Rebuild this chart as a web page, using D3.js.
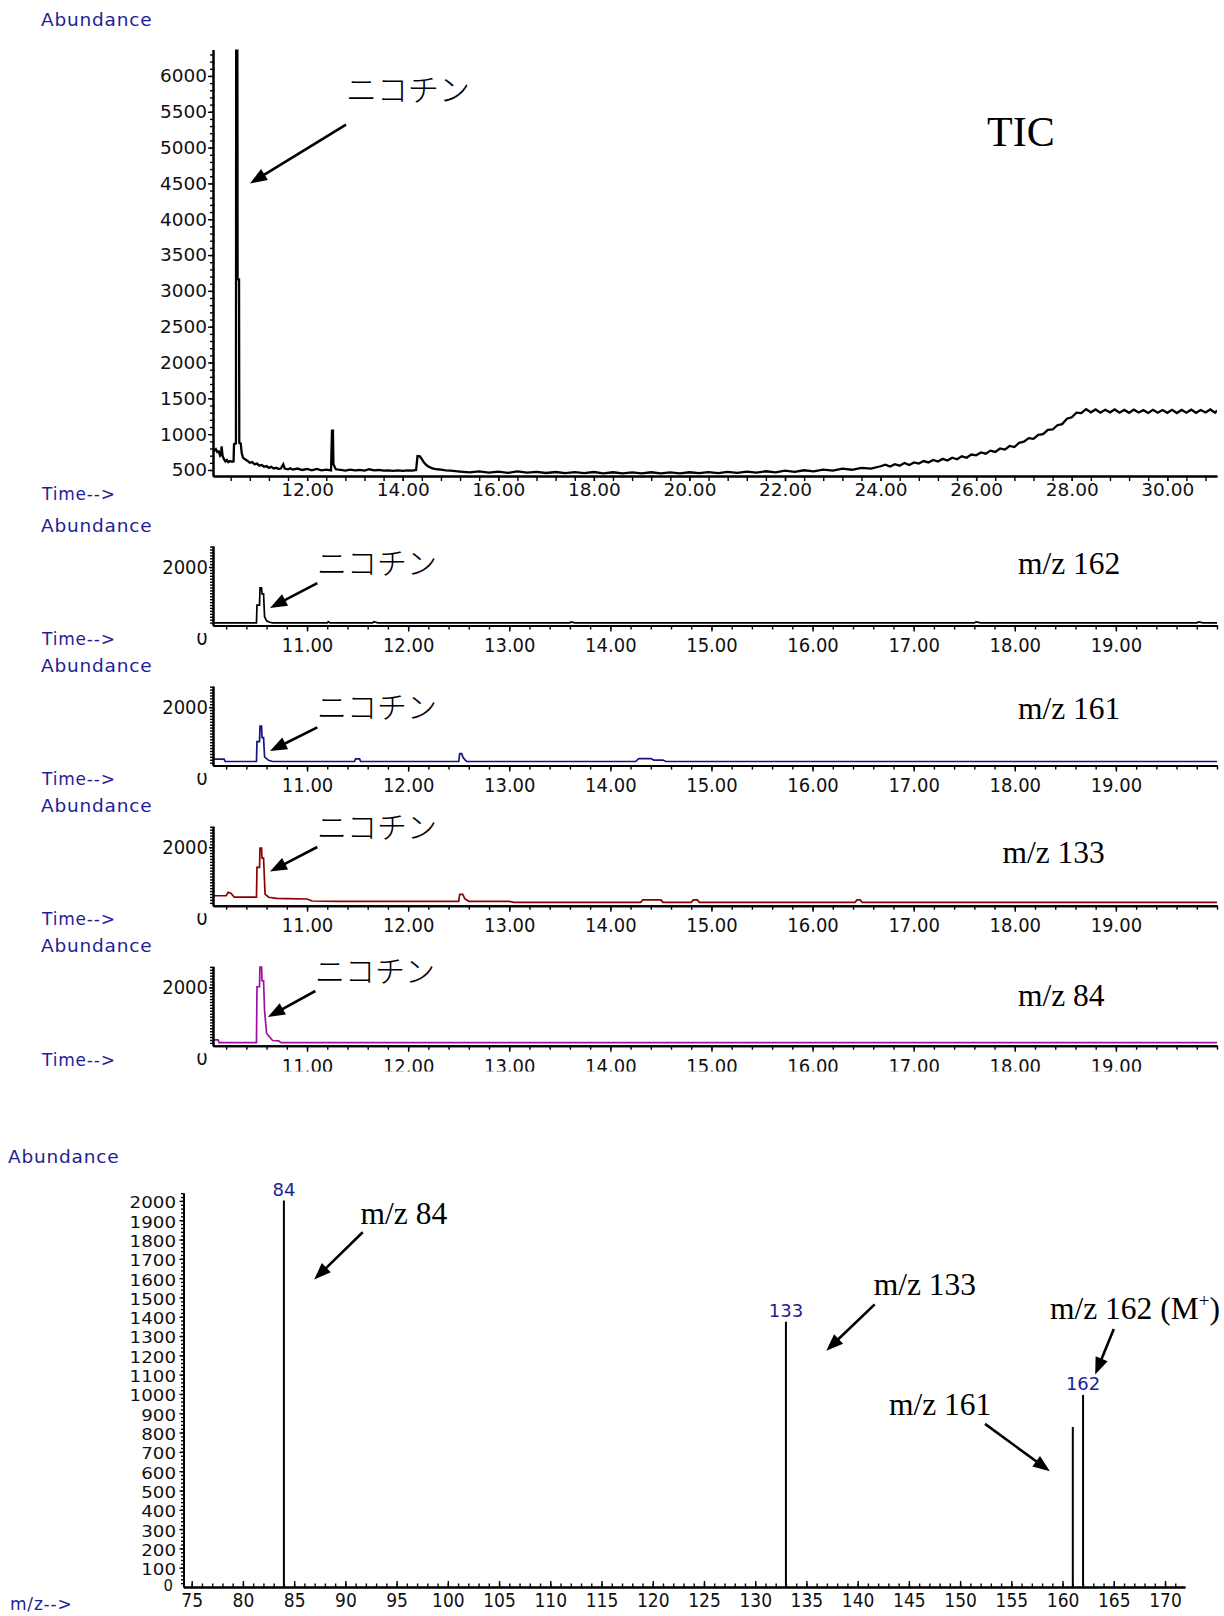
<!DOCTYPE html>
<html>
<head>
<meta charset="utf-8">
<script src="https://cdn.jsdelivr.net/npm/d3@7"></script>
<style>
body { margin: 0; background: #fff; }
</style>
</head>
<body>
<svg id="gfx" width="1224" height="1616"></svg>
<script>
// TIC trace: [time (min), abundance]
var ticTrace = [
    [10.03, 800], [10.06, 770], [10.09, 790], [10.12, 750], [10.15, 760], [10.18, 700], [10.2, 720],
    [10.21, 830], [10.23, 700], [10.26, 650], [10.29, 620], [10.32, 640], [10.35, 610], [10.39, 625],
    [10.43, 615], [10.46, 620], [10.47, 860], [10.5, 870], [10.51, 870], [10.515, 6600], [10.54, 6600],
    [10.545, 3160], [10.575, 3160], [10.58, 880], [10.61, 870], [10.63, 740], [10.66, 670], [10.7, 650],
    [10.75, 630], [10.8, 600], [10.85, 610], [10.9, 580], [10.95, 590], [11.0, 560], [11.05, 570],
    [11.1, 545], [11.15, 555], [11.2, 530], [11.25, 545], [11.3, 520], [11.35, 530], [11.4, 515],
    [11.45, 520], [11.5, 580], [11.53, 520], [11.6, 510], [11.65, 525], [11.7, 505], [11.8, 520],
    [11.9, 500], [12.0, 515], [12.1, 495], [12.2, 515], [12.3, 495], [12.4, 505], [12.5, 495],
    [12.52, 1050], [12.54, 1050], [12.55, 580], [12.6, 510], [12.7, 500], [12.8, 490], [12.9, 505],
    [13.0, 495], [13.1, 500], [13.2, 490], [13.3, 510], [13.4, 495], [13.5, 500], [13.6, 490],
    [13.7, 495], [13.8, 488], [13.9, 495], [14.0, 488], [14.1, 495], [14.2, 490], [14.28, 500],
    [14.31, 695], [14.36, 690], [14.4, 650], [14.45, 600], [14.5, 565], [14.56, 540], [14.64, 520],
    [14.72, 510], [14.8, 505], [14.9, 495], [15.0, 490], [15.2, 478], [15.4, 466], [15.6, 480],
    [15.8, 462], [16.0, 476], [16.2, 460], [16.4, 480], [16.6, 462], [16.8, 474], [17.0, 458],
    [17.2, 472], [17.4, 456], [17.6, 470], [17.8, 456], [18.0, 472], [18.2, 454], [18.4, 468],
    [18.6, 454], [18.8, 466], [19.0, 452], [19.2, 468], [19.4, 454], [19.6, 466], [19.8, 453],
    [20.0, 468], [20.2, 455], [20.4, 470], [20.6, 457], [20.8, 474], [21.0, 459], [21.2, 476],
    [21.4, 463], [21.6, 482], [21.8, 468], [22.0, 490], [22.2, 474], [22.4, 496], [22.6, 482],
    [22.8, 505], [23.0, 492], [23.2, 518], [23.4, 503], [23.6, 528], [23.8, 520], [24.0, 552],
    [24.1, 575], [24.2, 548], [24.3, 580], [24.4, 560], [24.5, 598], [24.6, 570], [24.7, 605],
    [24.8, 590], [24.9, 625], [25.0, 605], [25.1, 640], [25.2, 618], [25.3, 655], [25.4, 632],
    [25.5, 672], [25.6, 650], [25.7, 690], [25.8, 670], [25.9, 715], [26.0, 705], [26.1, 745],
    [26.2, 728], [26.3, 770], [26.4, 752], [26.5, 800], [26.6, 785], [26.7, 835], [26.8, 820],
    [26.9, 880], [27.0, 895], [27.1, 945], [27.2, 935], [27.3, 990], [27.4, 1000], [27.5, 1060],
    [27.6, 1065], [27.7, 1125], [27.8, 1140], [27.9, 1215], [28.0, 1235], [28.1, 1300], [28.2, 1295],
    [28.3, 1350], [28.4, 1305], [28.5, 1345], [28.6, 1300], [28.7, 1340], [28.8, 1305], [28.9, 1345],
    [29.0, 1300], [29.1, 1338], [29.2, 1298], [29.3, 1342], [29.4, 1302], [29.5, 1335], [29.6, 1296],
    [29.7, 1340], [29.8, 1300], [29.9, 1336], [30.0, 1298], [30.1, 1340], [30.2, 1295], [30.3, 1338],
    [30.4, 1300], [30.5, 1342], [30.6, 1298], [30.7, 1336], [30.8, 1302], [30.9, 1345], [31.0, 1300],
    [31.04, 1330]
];

// extracted ion chromatograms: [time (min), abundance]
var eic162 = [
    [10.07, 90], [10.5, 90], [10.505, 700], [10.53, 700], [10.535, 1290], [10.55, 1290], [10.555, 1080],
    [10.57, 1080], [10.58, 300], [10.6, 160], [10.63, 110], [10.66, 90], [11.2, 90], [11.21, 130],
    [11.23, 90], [11.65, 90], [11.66, 130], [11.7, 90], [13.6, 90], [13.61, 125], [13.65, 90],
    [17.6, 90], [17.62, 125], [17.66, 90], [19.8, 90], [19.82, 120], [19.86, 90], [20.0, 90]
];
var eic161 = [
    [10.07, 220], [10.18, 220], [10.19, 140], [10.5, 140], [10.505, 820], [10.53, 820], [10.535, 1350],
    [10.55, 1350], [10.555, 960], [10.57, 960], [10.58, 300], [10.62, 180], [10.66, 140], [11.47, 140],
    [11.48, 230], [11.52, 230], [11.53, 140], [12.5, 140], [12.51, 410], [12.53, 410], [12.54, 300],
    [12.56, 200], [12.58, 140], [14.25, 140], [14.28, 240], [14.4, 240], [14.43, 190], [14.52, 190],
    [14.55, 140], [20.0, 140]
];
var eic133 = [
    [10.07, 340], [10.2, 340], [10.22, 460], [10.25, 420], [10.28, 290], [10.5, 290], [10.505, 1310],
    [10.53, 1310], [10.535, 1975], [10.55, 1975], [10.555, 1630], [10.57, 1630], [10.585, 400],
    [10.62, 290], [10.7, 250], [10.8, 240], [11.0, 230], [11.05, 160], [11.3, 150], [12.5, 150],
    [12.51, 390], [12.54, 390], [12.56, 240], [12.6, 150], [13.0, 150], [13.05, 115], [14.3, 115],
    [14.32, 200], [14.5, 200], [14.52, 115], [14.8, 115], [14.82, 200], [14.86, 200], [14.88, 115],
    [16.42, 115], [16.44, 200], [16.47, 200], [16.49, 115], [20.0, 115]
];
var eic84 = [
    [10.07, 200], [10.12, 200], [10.13, 110], [10.5, 110], [10.505, 2020], [10.53, 2020], [10.535, 2790],
    [10.55, 2790], [10.555, 2225], [10.57, 2225], [10.58, 1200], [10.6, 430], [10.63, 300], [10.66, 180],
    [10.72, 170], [10.74, 110], [20.0, 110]
];
var eicSeries = [eic162, eic161, eic133, eic84];
var eicIons = ["m/z 162", "m/z 161", "m/z 133", "m/z 84"];

// mass spectrum
var specMz = [84, 133, 161, 162];
var specAbund = [2002, 1374, 829, 995];
var specPeakLabels = ["84", "133", "", "162"];

// tick labels
var ticTimeTicks = [12, 14, 16, 18, 20, 22, 24, 26, 28, 30];
var ticAbundTicks = [500, 1000, 1500, 2000, 2500, 3000, 3500, 4000, 4500, 5000, 5500, 6000];
var eicTimeTicks = [11, 12, 13, 14, 15, 16, 17, 18, 19];
var eicAbundTicks = [2000];
var specMzTicks = [75, 80, 85, 90, 95, 100, 105, 110, 115, 120, 125, 130, 135, 140, 145, 150, 155, 160, 165, 170];
var specAbundTicks = [100, 200, 300, 400, 500, 600, 700, 800, 900, 1000, 1100, 1200, 1300, 1400, 1500, 1600, 1700, 1800, 1900, 2000];

var gfx = {};

function initialise() {
    gfx.svg = d3.select("#gfx");
    gfx.defs = gfx.svg.append("defs");
    gfx.blue = "#1e1e96";
    gfx.cond = '"DejaVu Sans Condensed", "DejaVu Sans", sans-serif';
    gfx.sans = '"DejaVu Sans", sans-serif';
    gfx.serif = '"Liberation Serif", "Times New Roman", serif';
    gfx.jp = '"Noto Sans CJK JP", sans-serif';
    gfx.traceColors = ["#000000", "#141487", "#8c0000", "#a010a0"];

    drawTic();
    drawEics();
    drawSpectrum();
}

function label(g, x, y, str, family, size, color, anchor) {
    return g.append("text")
        .attr("x", x).attr("y", y)
        .attr("font-family", family)
        .attr("font-size", size)
        .attr("fill", color || "#000")
        .attr("text-anchor", anchor || "start")
        .text(str);
}

// the blue instrument captions are wider than DejaVu, so space them a little
function caption(g, x, y, str, size) {
    return label(g, x, y, str, gfx.sans, size, gfx.blue).attr("letter-spacing", 0.8);
}

function arrow(g, x1, y1, x2, y2) {
    var dx = x2 - x1, dy = y2 - y1;
    var len = Math.sqrt(dx * dx + dy * dy);
    var ux = dx / len, uy = dy / len;
    var hl = 17, hw = 6.5;
    var bx = x2 - ux * hl, by = y2 - uy * hl;
    g.append("line")
        .attr("x1", x1).attr("y1", y1)
        .attr("x2", bx + ux * 3).attr("y2", by + uy * 3)
        .attr("stroke", "#000").attr("stroke-width", 2.6);
    g.append("path")
        .attr("d", "M" + x2 + "," + y2 + "L" + (bx - uy * hw) + "," + (by + ux * hw) +
            "L" + (bx + uy * hw) + "," + (by - ux * hw) + "Z")
        .attr("fill", "#000");
}

function styleAxis(sel, family, size) {
    sel.attr("font-family", family).attr("font-size", size);
    sel.select(".domain").attr("stroke", "#000").attr("stroke-width", 2);
    sel.selectAll(".tick line").attr("stroke", "#000").attr("stroke-width", 1.4);
    sel.selectAll(".tick text").attr("fill", "#111");
}

function drawTic() {
    var g = gfx.svg.append("g").attr("class", "tic");
    var x = d3.scaleLinear().domain([10.03, 31.04]).range([213, 1217]);
    var y = d3.scaleLinear().domain([416, 6369]).range([476, 49.5]);

    gfx.defs.append("clipPath").attr("id", "clipTic")
        .append("rect").attr("x", 213).attr("y", 49.5).attr("width", 1004).attr("height", 426.5);

    var line = d3.line().x(d => x(d[0])).y(d => y(d[1]));
    g.append("path").datum(ticTrace)
        .attr("clip-path", "url(#clipTic)")
        .attr("d", line)
        .attr("fill", "none")
        .attr("stroke", "#000")
        .attr("stroke-width", 2.3);

    var yMinor = d3.range(500, 6370, 100);
    g.append("g").attr("transform", "translate(213,0)")
        .call(d3.axisLeft(y).tickValues(yMinor).tickSize(3).tickSizeOuter(0).tickFormat(""))
        .call(styleAxis, gfx.sans, 18.5);
    g.append("g").attr("transform", "translate(213,0)")
        .call(d3.axisLeft(y).tickValues(ticAbundTicks).tickSize(5).tickPadding(1).tickSizeOuter(0).tickFormat(d3.format("d")))
        .call(styleAxis, gfx.sans, 18.5);

    var xMinor = d3.range(10.4, 31.05, 0.4).map(v => Math.round(v * 10) / 10);
    g.append("g").attr("transform", "translate(0,476)")
        .call(d3.axisBottom(x).tickValues(xMinor).tickSize(5).tickSizeOuter(0).tickFormat(""))
        .call(styleAxis, gfx.sans, 18.5);
    var xa = g.append("g").attr("transform", "translate(0,476)")
        .call(d3.axisBottom(x).tickValues(ticTimeTicks).tickSize(5).tickSizeOuter(0).tickFormat(d3.format(".2f")))
        .call(styleAxis, gfx.sans, 18.5);
    xa.selectAll(".tick text").attr("y", 20.3).attr("dy", 0);

    caption(g, 41, 26.4, "Abundance", 18.5);
    caption(g, 42, 499.5, "Time-->", 17);
    label(g, 987, 146, "TIC", gfx.serif, 42);
    label(g, 346, 101, "ニコチン", gfx.jp, 31).attr("font-weight", 300);
    arrow(g, 346, 124.7, 250, 183.4);
}

function drawEics() {
    gfx.defs.append("clipPath").attr("id", "clipChrom")
        .append("rect").attr("x", 0).attr("y", 500).attr("width", 1224).attr("height", 571.5);
    var outer = gfx.svg.append("g").attr("clip-path", "url(#clipChrom)");
    var x = d3.scaleLinear().domain([10.07, 20.0]).range([213, 1217]);

    // hand-placed annotation spots (ion label x, ion label centre, kanji centre, arrow)
    var notes = [
        { ionX: 1018, ionY: 563.6, jpX: 317, jpY: 562.5, ar: [317.3, 583.2, 270, 607.9] },
        { ionX: 1018, ionY: 707.8, jpX: 317, jpY: 706.8, ar: [317.3, 727.4, 270, 751] },
        { ionX: 1002.5, ionY: 852, jpX: 317, jpY: 826, ar: [317.3, 847, 270, 871.6] },
        { ionX: 1018, ionY: 995.3, jpX: 315, jpY: 970.5, ar: [315.3, 991, 267.9, 1017] }
    ];

    eicSeries.forEach(function(series, i) {
        var base = 625.5 + 140.1 * i;
        var y = d3.scaleLinear().domain([0, 2720]).range([base, base - 79.5]);
        var g = outer.append("g").attr("class", "eic");

        gfx.defs.append("clipPath").attr("id", "clipEic" + i)
            .append("rect").attr("x", 213).attr("y", base - 79.5).attr("width", 1004).attr("height", 79.5);

        var line = d3.line().x(d => x(d[0])).y(d => y(d[1]));
        g.append("path").datum(series)
            .attr("clip-path", "url(#clipEic" + i + ")")
            .attr("d", line)
            .attr("fill", "none")
            .attr("stroke", gfx.traceColors[i])
            .attr("stroke-width", 1.7);

        g.append("g").attr("transform", "translate(213,0)")
            .call(d3.axisLeft(y).tickValues(d3.range(100, 2720, 100)).tickSize(3).tickSizeOuter(0).tickFormat(""))
            .call(styleAxis, gfx.cond, 20);
        g.append("g").attr("transform", "translate(213,0)")
            .call(d3.axisLeft(y).tickValues(eicAbundTicks).tickSize(4).tickPadding(1).tickSizeOuter(0).tickFormat(d3.format("d")))
            .call(styleAxis, gfx.cond, 20);

        var xMinor = d3.range(10.2, 20.01, 0.2).map(v => Math.round(v * 10) / 10);
        g.append("g").attr("transform", "translate(0," + base + ")")
            .call(d3.axisBottom(x).tickValues(xMinor).tickSize(4).tickSizeOuter(0).tickFormat(""))
            .call(styleAxis, gfx.cond, 20);
        var xa = g.append("g").attr("transform", "translate(0," + base + ")")
            .call(d3.axisBottom(x).tickValues(eicTimeTicks).tickSize(6).tickSizeOuter(0).tickFormat(d3.format(".2f")))
            .call(styleAxis, gfx.cond, 20);
        xa.selectAll(".tick text").attr("y", 26.8).attr("dy", 0);

        // the zero label is half hidden behind the axis, as in the original
        gfx.defs.append("clipPath").attr("id", "clipZero" + i)
            .append("rect").attr("x", 190).attr("y", base + 7.5).attr("width", 25).attr("height", 20);
        label(g, 202, base + 19.5, "0", gfx.cond, 20, "#111", "middle")
            .attr("clip-path", "url(#clipZero" + i + ")");

        caption(g, 41, base - 93.5, "Abundance", 18.5);
        caption(g, 42, base + 19.7, "Time-->", 17);

        var n = notes[i];
        label(g, n.ionX, n.ionY + 10.7, eicIons[i], gfx.serif, 31.5);
        label(g, n.jpX, n.jpY + 11.5, "ニコチン", gfx.jp, 30).attr("font-weight", 300);
        arrow(g, n.ar[0], n.ar[1], n.ar[2], n.ar[3]);
    });
}

function drawSpectrum() {
    var g = gfx.svg.append("g").attr("class", "spectrum");
    var x = d3.scaleLinear().domain([74.2, 171.95]).range([183.5, 1185]);
    var y = d3.scaleLinear().domain([0, 2041]).range([1587, 1193]);

    g.selectAll("line.peak").data(specMz).enter()
        .append("line").attr("class", "peak")
        .attr("x1", d => x(d)).attr("x2", d => x(d))
        .attr("y1", y(0))
        .attr("y2", (d, i) => y(specAbund[i]))
        .attr("stroke", "#000")
        .attr("stroke-width", 2);

    g.selectAll("text.peak").data(specMz).enter()
        .append("text").attr("class", "peak")
        .attr("x", d => x(d))
        .attr("y", (d, i) => y(specAbund[i]) - 4.5)
        .attr("text-anchor", "middle")
        .attr("font-family", gfx.sans)
        .attr("font-size", 18)
        .attr("fill", gfx.blue)
        .text((d, i) => specPeakLabels[i]);

    g.append("g").attr("transform", "translate(183.5,0)")
        .call(d3.axisLeft(y).tickValues(d3.range(20, 2041, 20)).tickSize(2.5).tickSizeOuter(0).tickFormat(""))
        .call(styleAxis, gfx.cond, 16.5);
    var ya = g.append("g").attr("transform", "translate(183.5,0)")
        .call(d3.axisLeft(y).tickValues(specAbundTicks).tickSize(4).tickPadding(3.5).tickSizeOuter(0).tickFormat(d3.format("d")))
        .call(styleAxis, gfx.cond, 16.5);
    // stretch the stacked labels sideways to the width of the original's tall digits
    ya.selectAll(".tick text")
        .attr("dy", "0.42em")
        .attr("textLength", d => String(d).length * 11.6)
        .attr("lengthAdjust", "spacingAndGlyphs");
    label(g, 173, 1591, "0", gfx.cond, 16.5, "#111", "end");

    g.append("g").attr("transform", "translate(0,1587)")
        .call(d3.axisBottom(x).tickValues(d3.range(75, 172, 1)).tickSize(-3.5).tickSizeOuter(0).tickFormat(""))
        .call(styleAxis, gfx.cond, 19);
    var xa = g.append("g").attr("transform", "translate(0,1587)")
        .call(d3.axisBottom(x).tickValues(specMzTicks).tickSize(-6).tickSizeOuter(0).tickFormat(d3.format("d")))
        .call(styleAxis, gfx.cond, 19);
    xa.selectAll(".tick text").attr("y", 19.9).attr("dy", 0);

    caption(g, 8, 1162.5, "Abundance", 18.5);
    caption(g, 10, 1610, "m/z-->", 17);

    label(g, 360.6, 1223.5, "m/z 84", gfx.serif, 31.5);
    arrow(g, 362.7, 1232.2, 314.2, 1279.6);
    label(g, 873.7, 1294.6, "m/z 133", gfx.serif, 31.5);
    arrow(g, 874.7, 1304.4, 826.3, 1350.7);
    var m162 = label(g, 1050, 1319.3, "m/z 162 (M", gfx.serif, 31.5);
    m162.append("tspan").attr("font-size", 19).attr("dy", -12).text("+");
    m162.append("tspan").attr("dy", 12).text(")");
    arrow(g, 1113.8, 1329, 1095.2, 1374.4);
    label(g, 889, 1415.1, "m/z 161", gfx.serif, 31.5);
    arrow(g, 985, 1423.9, 1049.9, 1471.3);
}

initialise();
</script>
</body>
</html>
